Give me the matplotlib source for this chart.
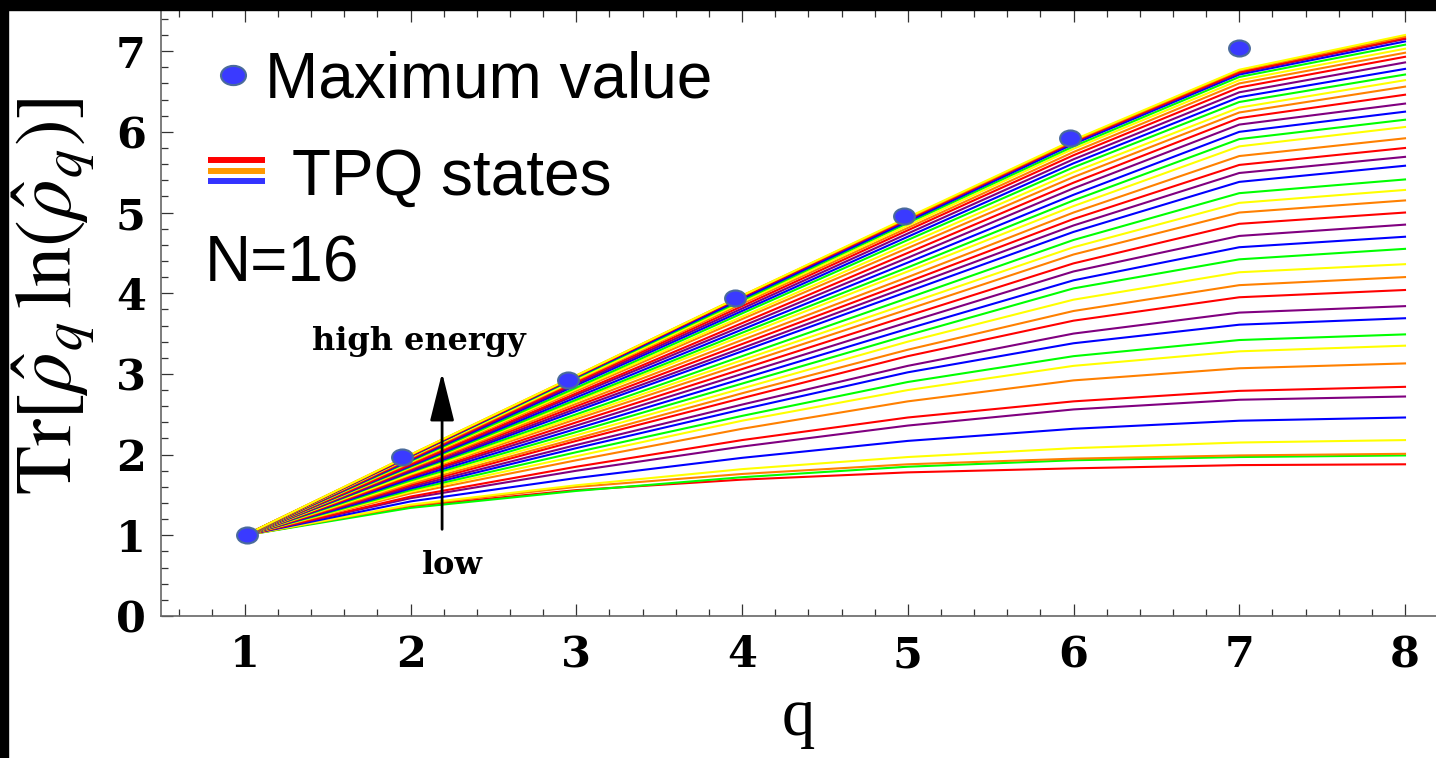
import matplotlib
matplotlib.use("Agg")
import matplotlib.pyplot as plt
from matplotlib.path import Path
from matplotlib.transforms import Affine2D
from matplotlib.ticker import MultipleLocator
from matplotlib.lines import Line2D
from matplotlib.patches import Rectangle

plt.rcParams['mathtext.fontset'] = 'stix'

# --- data ---
q_values = [1, 2, 3, 4, 5, 6, 7, 8]

# TPQ curves, listed from the lowest (at q=8) to the highest
tpq_curves = [
    [1, 1.36, 1.56, 1.69, 1.78, 1.83, 1.87, 1.88],
    [1, 1.34, 1.55, 1.72, 1.85, 1.93, 1.97, 1.99],
    [1, 1.37, 1.60, 1.76, 1.88, 1.95, 1.99, 2.01],
    [1, 1.38, 1.62, 1.82, 1.97, 2.08, 2.15, 2.18],
    [1, 1.42, 1.71, 1.96, 2.17, 2.32, 2.42, 2.46],
    [1, 1.46, 1.80, 2.10, 2.36, 2.56, 2.68, 2.72],
    [1, 1.48, 1.85, 2.18, 2.46, 2.66, 2.79, 2.84],
    [1, 1.52, 1.93, 2.32, 2.66, 2.92, 3.07, 3.13],
    [1, 1.54, 1.98, 2.42, 2.80, 3.10, 3.28, 3.35],
    [1, 1.56, 2.03, 2.48, 2.90, 3.22, 3.42, 3.49],
    [1, 1.58, 2.08, 2.56, 3.02, 3.38, 3.61, 3.69],
    [1, 1.60, 2.12, 2.62, 3.10, 3.50, 3.76, 3.84],
    [1, 1.62, 2.17, 2.70, 3.22, 3.66, 3.95, 4.04],
    [1, 1.64, 2.20, 2.76, 3.30, 3.78, 4.10, 4.20],
    [1, 1.66, 2.24, 2.82, 3.40, 3.92, 4.26, 4.36],
    [1, 1.68, 2.28, 2.88, 3.48, 4.06, 4.42, 4.55],
    [1, 1.70, 2.32, 2.94, 3.56, 4.16, 4.57, 4.70],
    [1, 1.72, 2.36, 3.00, 3.64, 4.27, 4.71, 4.85],
    [1, 1.73, 2.40, 3.06, 3.72, 4.37, 4.86, 5.00],
    [1, 1.75, 2.44, 3.12, 3.80, 4.48, 5.00, 5.15],
    [1, 1.76, 2.47, 3.17, 3.87, 4.57, 5.12, 5.28],
    [1, 1.78, 2.50, 3.22, 3.94, 4.66, 5.24, 5.41],
    [1, 1.79, 2.54, 3.28, 4.02, 4.76, 5.38, 5.58],
    [1, 1.80, 2.57, 3.32, 4.08, 4.84, 5.49, 5.69],
    [1, 1.82, 2.60, 3.37, 4.14, 4.92, 5.59, 5.80],
    [1, 1.83, 2.63, 3.42, 4.20, 5.00, 5.70, 5.92],
    [1, 1.84, 2.66, 3.47, 4.27, 5.08, 5.82, 6.06],
    [1, 1.85, 2.68, 3.51, 4.32, 5.15, 5.91, 6.15],
    [1, 1.86, 2.71, 3.55, 4.38, 5.22, 6.00, 6.25],
    [1, 1.87, 2.74, 3.59, 4.44, 5.30, 6.09, 6.35],
    [1, 1.88, 2.76, 3.63, 4.50, 5.37, 6.17, 6.46],
    [1, 1.90, 2.79, 3.68, 4.56, 5.44, 6.24, 6.56],
    [1, 1.91, 2.81, 3.71, 4.61, 5.50, 6.30, 6.64],
    [1, 1.92, 2.83, 3.75, 4.66, 5.56, 6.37, 6.71],
    [1, 1.93, 2.86, 3.78, 4.70, 5.61, 6.43, 6.78],
    [1, 1.94, 2.88, 3.81, 4.74, 5.66, 6.49, 6.86],
    [1, 1.95, 2.90, 3.84, 4.78, 5.71, 6.55, 6.93],
    [1, 1.96, 2.92, 3.87, 4.81, 5.75, 6.60, 6.98],
    [1, 1.97, 2.93, 3.89, 4.84, 5.79, 6.64, 7.03],
    [1, 1.98, 2.95, 3.91, 4.87, 5.82, 6.68, 7.08],
    [1, 1.98, 2.96, 3.93, 4.89, 5.85, 6.71, 7.12],
    [1, 1.99, 2.97, 3.95, 4.91, 5.87, 6.73, 7.15],
    [1, 1.99, 2.97, 3.96, 4.92, 5.88, 6.74, 7.16],
    [1, 2.00, 2.98, 3.97, 4.93, 5.89, 6.76, 7.18],
    [1, 2.00, 2.98, 3.97, 4.94, 5.90, 6.77, 7.20],
]
tpq_color_codes = "RGOYBPROYGBPROYGBPROYGBPROYGBPROYGBPROYGBPROY"

# blue "maximum value" dots
max_q = [1.01, 1.95, 2.95, 3.96, 4.98, 5.98, 7.00]
max_values = [1.00, 1.97, 2.92, 3.94, 4.96, 5.92, 7.04]

color_of = {'R': '#ff0000', 'O': '#ff8000', 'Y': '#ffff00',
            'G': '#00ff00', 'B': '#0000ff', 'P': '#800080'}

# --- figure ---
fig = plt.figure(figsize=(14.36, 7.58), dpi=100)
ax = fig.add_axes([161 / 1436, 142 / 758, 1275 / 1436, 606 / 758])

for vals, code in zip(tpq_curves, tpq_color_codes):
    ax.plot(q_values, vals, color=color_of[code], lw=1.5, zorder=2)

# elliptic marker (wider than tall)
ellipse = Path.unit_circle().transformed(Affine2D().scale(1.3, 1.0))
ax.plot(max_q, max_values, ls='none', marker=ellipse, ms=15,
        mfc='#3a3aff', mec='#4a6b9c', mew=1.5, zorder=5)

ax.set_xlim(0.494, 8.187)
ax.set_ylim(0, 7.51)
ax.xaxis.set_major_locator(MultipleLocator(1))
ax.xaxis.set_minor_locator(MultipleLocator(0.2))
ax.yaxis.set_major_locator(MultipleLocator(1))
ax.yaxis.set_minor_locator(MultipleLocator(0.2))
ax.set_xticks(q_values)

ax.tick_params(which='both', direction='in', top=True, right=False,
               color='#333333', width=0.9)
ax.tick_params(which='major', length=8.5)
ax.tick_params(which='minor', length=5)
ax.tick_params(axis='x', pad=13)
ax.tick_params(axis='y', pad=11)
for lab in ax.get_xticklabels() + ax.get_yticklabels():
    lab.set_fontfamily('DejaVu Serif')
    lab.set_fontweight('bold')
    lab.set_fontsize(31)

for side in ['left', 'bottom', 'top']:
    ax.spines[side].set_color('#666666')
    ax.spines[side].set_linewidth(1.2)
ax.spines['right'].set_visible(False)

ax.set_ylabel(r'$\mathrm{Tr}[\hat{\rho}_q\,\ln(\hat{\rho}_q)]$', fontsize=58)
ax.yaxis.set_label_coords(-0.05, 0.528)
ax.set_xlabel('q', fontsize=48, fontfamily='Liberation Serif')
ax.xaxis.set_label_coords(0.5, -0.118)

# arrow + its labels
ax.annotate('', xy=(2.19, 3.05), xytext=(2.19, 1.04),
            arrowprops=dict(arrowstyle='-|>,head_width=0.25,head_length=1.0',
                            color='black', lw=2, mutation_scale=30))
ax.text(2.05, 3.40, 'high energy', fontsize=23, fontfamily='DejaVu Serif',
        fontweight='bold', ha='center', va='center')
ax.text(2.25, 0.63, 'low', fontsize=23, fontfamily='DejaVu Serif',
        fontweight='bold', ha='center', va='center')

# hand-made legend
W, H = 1436, 758
fig.add_artist(Line2D([233 / W], [1 - 75 / H], ls='none', marker=ellipse, ms=18,
                      mfc='#3a3aff', mec='#4a6b9c', mew=1.5,
                      transform=fig.transFigure))
fig.text(265 / W, 1 - 97 / H, 'Maximum value', fontsize=46,
         fontfamily='Liberation Sans', va='baseline')
for yy, c in [(160, '#ff0000'), (171, '#ff9900'), (181, '#3333ff')]:
    fig.add_artist(Line2D([208 / W, 265 / W], [1 - yy / H, 1 - yy / H],
                          color=c, lw=4.3, solid_capstyle='butt',
                          transform=fig.transFigure))
fig.text(292 / W, 1 - 195 / H, 'TPQ states', fontsize=46,
         fontfamily='Liberation Sans', va='baseline')
fig.text(205 / W, 1 - 282 / H, 'N=16', fontsize=46,
         fontfamily='Liberation Sans', va='baseline')

# black frame strips of the original screenshot
fig.add_artist(Rectangle((0, 1 - 10 / H), 1, 10 / H, color='black',
                         transform=fig.transFigure, zorder=10))
fig.add_artist(Rectangle((0, 0), 8 / W, 1, color='black',
                         transform=fig.transFigure, zorder=10))

fig.savefig('out.png', dpi=100)
